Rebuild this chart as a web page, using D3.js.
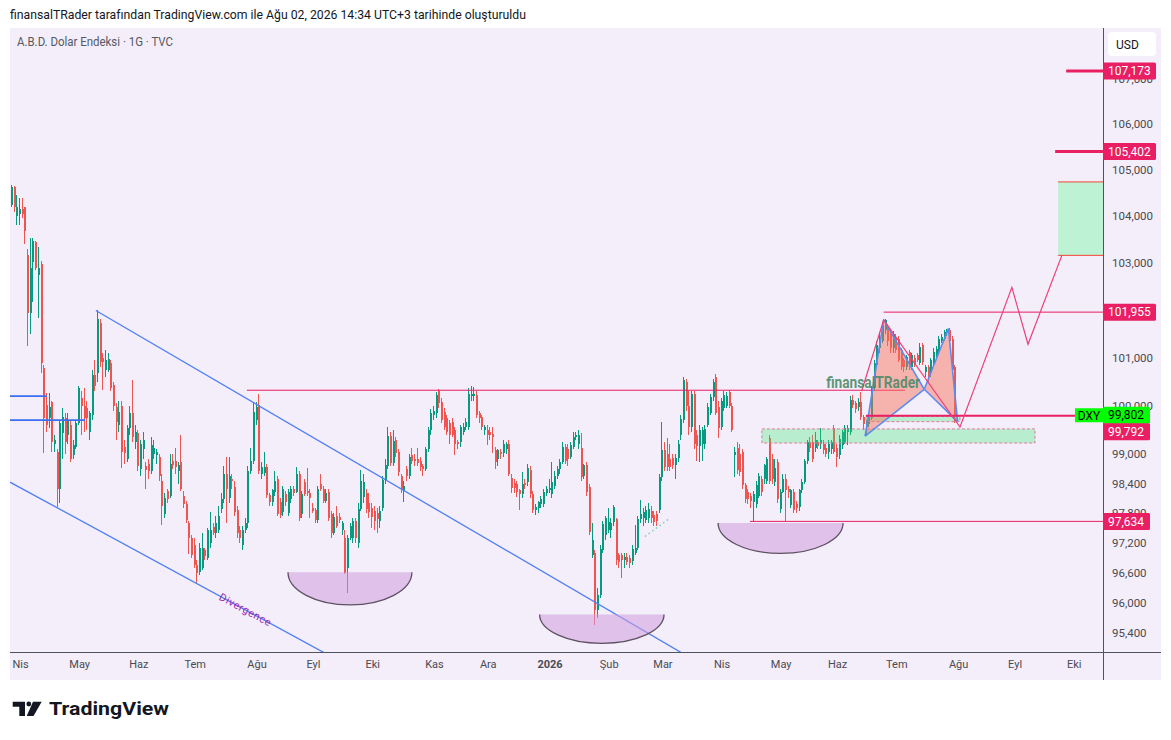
<!DOCTYPE html>
<html><head><meta charset="utf-8">
<script src="https://cdn.jsdelivr.net/npm/d3@7"></script>
<style>
html,body{margin:0;padding:0;background:#fff;}
svg{display:block;font-family:Roboto,"Liberation Sans",sans-serif;}
</style></head><body>
<svg id="c" width="1171" height="740"></svg>
<script>
// ---------- data ----------
const firstBarDate = [2025, 2, 27]; // 27 Mar 2025, daily bars (weekdays)
const monthNames = ["Oca","Şub","Mar","Nis","May","Haz","Tem","Ağu","Eyl","Eki","Kas","Ara"];
const priceTicks = [95.4,96,96.6,97.2,97.8,98.4,99,100,101,103,104,105,106,107];
const lastPrice = 99.802;
// [open, high, low, close]
const ohlc = [
[104.25,104.67,104.20,104.63],[104.63,104.65,104.10,104.20],[104.00,104.46,103.80,104.19],[104.05,104.40,103.80,104.15],
[104.15,104.40,103.95,104.05],[104.19,104.20,103.40,103.68],[103.17,103.30,101.25,101.93],[101.93,103.54,101.50,102.90],
[103.02,103.54,102.17,103.47],[103.44,103.47,102.85,102.90],[102.74,103.34,101.83,102.90],[102.98,103.05,100.67,100.88],
[100.78,100.85,99.02,99.74],[100.01,100.26,99.45,99.60],[99.74,100.26,99.53,99.97],[100.07,100.10,99.04,99.25],
[99.22,99.40,99.04,99.29],[99.04,99.10,97.92,98.29],[98.29,99.70,98.00,99.64],[99.43,99.95,98.90,99.76],
[99.74,99.84,99.00,99.25],[99.40,99.84,99.20,99.70],[99.60,99.70,98.85,98.91],[98.98,99.30,98.90,99.18],
[99.14,99.70,99.10,99.64],[99.64,100.40,99.60,100.36],[100.16,100.30,99.40,100.00],[100.00,100.36,99.45,99.74],
[99.95,100.10,99.50,99.74],[99.45,99.90,99.30,99.84],[99.80,100.75,99.70,100.63],[100.63,100.95,100.30,100.40],
[100.67,102.00,100.50,101.80],[101.72,101.80,100.80,100.91],[101.00,101.10,100.32,100.91],[100.74,101.15,100.60,100.95],
[100.75,101.10,100.70,100.98],[100.88,100.95,100.30,100.36],[100.43,100.50,99.90,100.00],[99.97,100.05,99.30,99.66],
[99.60,100.10,99.45,99.87],[100.00,100.10,98.71,99.04],[99.14,99.30,98.80,99.02],[98.91,99.60,98.85,99.53],
[99.53,100.00,99.40,99.84],[99.84,100.53,99.25,99.35],[99.25,99.60,99.10,99.45],[99.43,99.50,98.65,98.75],
[98.70,99.30,98.55,99.20],[99.10,99.45,98.90,99.30],[98.75,98.85,98.30,98.67],[98.80,98.90,98.50,98.65],
[98.65,99.35,98.60,99.18],[99.00,99.30,98.90,99.12],[98.98,99.10,98.80,99.05],[98.95,99.00,98.45,98.55],
[98.46,98.60,97.57,97.95],[97.78,98.20,97.70,98.11],[98.25,98.30,98.00,98.09],[98.15,99.00,98.10,98.81],
[98.87,99.00,98.70,98.77],[98.87,99.12,98.60,98.73],[98.65,98.85,98.40,98.77],[98.85,99.39,98.25,98.30],
[98.15,98.25,97.90,97.98],[97.98,98.05,97.60,97.67],[97.60,97.65,96.97,97.30],[97.30,97.35,96.90,96.95],
[97.15,97.30,96.70,96.76],[96.76,96.85,96.37,96.60],[96.62,97.20,96.55,97.09],[96.70,97.40,96.65,97.09],
[97.05,97.10,96.85,96.93],[96.90,97.50,96.85,97.46],[97.20,97.82,97.10,97.46],[97.53,97.60,97.35,97.40],
[97.40,97.75,97.30,97.60],[97.46,97.95,97.40,97.74],[97.88,98.20,97.80,98.09],[98.09,98.75,98.00,98.60],
[98.60,98.95,97.60,98.29],[98.10,98.95,98.00,98.55],[98.50,98.60,98.30,98.45],[98.33,98.45,97.75,97.82],
[97.86,97.95,97.30,97.40],[97.46,97.55,97.20,97.30],[97.15,97.55,97.05,97.46],[97.46,97.70,97.40,97.60],
[97.60,98.75,97.50,98.65],[98.65,99.12,98.60,98.87],[98.87,100.08,98.80,99.87],[99.70,100.08,99.60,99.97],
[100.01,100.25,98.60,98.65],[98.60,98.85,98.50,98.73],[98.62,99.04,98.56,98.73],[98.73,98.80,98.10,98.16],
[98.16,98.20,97.95,98.03],[98.03,98.30,97.95,98.26],[98.23,98.65,98.15,98.46],[98.50,98.55,97.75,97.79],
[98.03,98.10,97.70,97.76],[97.82,98.35,97.75,98.29],[98.19,98.25,97.95,98.03],[97.80,98.30,97.75,98.23],
[98.09,98.35,98.00,98.29],[98.29,98.35,98.15,98.20],[98.23,98.73,98.20,98.60],[98.60,98.65,97.65,97.71],
[97.79,98.25,97.70,98.19],[98.43,98.50,98.15,98.19],[98.25,98.71,98.15,98.20],[98.20,98.30,97.71,98.10],
[97.90,98.00,97.80,97.84],[97.86,97.90,97.60,97.66],[97.66,98.35,97.60,98.29],[98.40,98.60,98.25,98.29],
[98.29,98.35,98.00,98.05],[98.05,98.30,98.00,98.20],[98.23,98.30,97.65,97.71],[97.78,97.85,97.30,97.40],
[97.40,97.80,97.35,97.72],[97.75,97.95,97.50,97.55],[97.72,97.80,97.60,97.66],[97.45,97.65,97.35,97.60],
[97.30,97.45,96.58,96.60],[96.70,97.35,96.20,97.30],[97.30,97.60,97.25,97.55],[97.30,97.70,97.20,97.65],
[97.65,97.70,97.20,97.30],[97.20,98.00,97.10,97.88],[97.88,98.68,97.85,98.45],[98.13,98.60,98.00,98.43],
[98.20,98.30,97.80,97.88],[98.00,98.20,97.70,97.82],[97.90,98.00,97.50,97.72],[97.85,97.95,97.45,97.65],
[97.80,97.90,97.40,97.68],[97.65,97.95,97.50,97.85],[97.90,98.55,97.85,98.47],[98.47,98.90,98.40,98.77],
[98.75,99.55,98.70,99.38],[99.38,99.45,98.75,98.82],[98.82,99.50,98.75,99.28],[99.29,99.35,98.95,99.02],
[99.04,99.10,98.55,98.63],[98.55,98.60,98.20,98.30],[98.25,98.45,98.03,98.35],[98.70,98.75,98.45,98.55],
[98.56,99.00,98.50,98.94],[98.98,99.12,98.80,98.86],[98.90,99.00,98.75,98.87],[98.90,99.12,98.75,98.83],
[98.87,98.95,98.65,98.73],[98.75,98.80,98.55,98.70],[98.70,99.15,98.65,99.11],[99.11,99.55,99.05,99.49],
[99.49,99.94,99.40,99.84],[99.80,100.00,99.70,99.90],[99.84,100.28,99.75,100.22],[100.30,100.35,99.95,100.05],
[100.07,100.15,99.65,99.70],[99.87,99.95,99.50,99.56],[99.74,99.80,99.40,99.46],[99.64,99.70,99.20,99.39],
[99.66,99.75,99.35,99.40],[99.49,99.55,98.98,99.22],[99.25,99.30,99.10,99.20],[99.25,99.60,99.15,99.56],
[99.45,99.65,99.40,99.55],[99.56,99.75,99.50,99.66],[99.56,100.37,99.50,100.25],[100.20,100.40,100.10,100.25],
[100.20,100.39,100.10,100.24],[100.22,100.30,99.75,99.80],[99.85,99.90,99.65,99.75],[99.77,99.80,99.50,99.56],
[99.49,99.60,99.40,99.56],[99.50,99.60,99.18,99.39],[99.45,99.55,99.30,99.39],[99.42,99.55,99.02,99.35],
[99.08,99.15,98.70,98.85],[98.91,99.10,98.75,99.08],[99.05,99.10,98.90,99.00],[99.02,99.30,98.95,99.22],
[99.10,99.25,99.00,99.22],[99.22,99.30,98.55,98.60],[98.52,98.60,98.20,98.32],[98.42,98.50,98.20,98.32],
[98.40,98.45,98.13,98.23],[98.26,98.30,97.86,98.19],[98.19,98.63,98.10,98.40],[98.42,98.50,98.30,98.38],
[98.43,98.80,98.35,98.71],[98.67,98.75,98.10,98.19],[98.19,98.25,97.80,97.86],[97.86,97.98,97.76,97.93],
[97.90,98.05,97.80,98.03],[97.98,98.15,97.90,98.09],[97.99,98.30,97.93,98.23],[98.20,98.35,98.15,98.29],
[98.28,98.50,98.20,98.31],[98.19,98.84,98.10,98.43],[98.36,98.65,98.30,98.56],[98.56,98.75,98.50,98.70],
[98.70,98.90,98.60,98.84],[98.84,99.25,98.80,99.15],[99.15,99.20,98.80,98.87],[99.10,99.20,98.75,98.90],
[98.94,99.25,98.90,99.18],[99.15,99.46,99.10,99.36],[99.36,99.45,99.30,99.39],[99.20,99.50,99.10,99.40],
[99.12,99.43,98.45,98.53],[98.56,98.80,98.50,98.77],[98.77,98.85,98.15,98.23],[98.33,98.40,97.35,97.41],
[96.95,97.60,96.90,97.25],[97.00,97.05,95.57,95.85],[95.85,96.30,95.70,96.15],[96.15,97.15,96.10,97.08],
[97.05,97.65,97.00,97.58],[97.35,97.75,97.25,97.70],[97.45,97.90,97.40,97.62],[97.45,97.70,97.30,97.60],
[97.62,97.96,97.55,97.92],[97.68,97.70,96.75,96.85],[96.95,97.00,96.70,96.82],[96.95,97.00,96.49,96.85],
[96.85,97.00,96.70,96.92],[96.92,97.00,96.75,96.82],[96.90,96.95,96.70,96.80],[96.83,97.15,96.75,97.08],
[97.00,97.56,96.95,97.10],[97.10,97.75,97.05,97.68],[97.68,98.06,97.60,97.78],[97.70,97.90,97.55,97.82],
[97.66,97.95,97.60,97.86],[97.70,98.00,97.60,97.88],[97.85,97.95,97.60,97.70],[97.76,97.85,97.55,97.63],
[97.78,97.85,97.55,97.65],[97.86,98.60,97.80,98.53],[98.53,99.67,98.45,99.08],[99.08,99.25,98.65,98.74],
[99.00,99.33,98.65,98.74],[98.90,99.20,98.65,98.74],[98.92,99.00,98.70,98.78],[98.78,99.00,98.50,98.92],
[98.92,99.30,98.85,99.22],[99.40,99.80,99.30,99.73],[99.70,100.60,99.65,100.53],[100.50,100.55,99.90,100.00],
[100.00,100.30,99.40,99.55],[99.55,100.30,99.45,100.25],[100.25,100.30,99.10,99.20],[99.40,99.50,98.87,99.16],
[99.16,99.60,98.85,99.50],[99.20,99.55,98.87,99.50],[99.20,99.60,99.10,99.52],[99.60,100.05,99.55,99.97],
[99.84,100.25,99.80,100.18],[100.18,100.55,100.10,100.49],[100.60,100.65,99.80,99.84],[99.98,100.10,99.33,99.53],
[99.55,100.15,99.50,100.10],[99.95,100.30,99.90,100.22],[100.00,100.28,99.95,100.20],[100.28,100.32,99.95,100.00],
[100.00,100.05,99.45,99.49],[98.98,99.15,98.53,99.05],[99.12,99.25,98.60,98.67],[99.00,99.20,98.55,98.63],
[99.04,99.10,98.30,98.37],[98.37,98.42,98.00,98.09],[98.23,98.30,97.98,98.09],[98.15,98.20,97.90,98.05],
[98.03,98.25,97.63,98.19],[97.98,98.45,97.90,98.37],[98.15,98.62,98.10,98.56],[98.50,98.55,98.15,98.23],
[98.50,98.80,98.40,98.77],[98.46,98.95,98.40,98.91],[99.33,99.40,98.40,98.46],[98.90,99.00,98.40,98.50],
[98.43,98.90,98.35,98.71],[98.84,98.90,98.00,98.09],[97.88,98.30,97.80,98.23],[98.23,98.60,98.20,98.50],
[98.50,98.60,97.64,98.27],[98.30,98.35,98.10,98.23],[97.96,98.30,97.90,98.27],[98.23,98.30,97.80,97.86],
[97.98,98.05,97.80,97.90],[97.92,98.30,97.85,98.26],[98.26,98.50,98.20,98.43],[98.43,98.90,98.40,98.87],
[98.87,99.30,98.80,99.25],[99.25,99.35,99.05,99.12],[99.25,99.40,98.85,98.91],[99.12,99.45,99.05,99.29],
[99.25,99.30,99.10,99.16],[99.20,99.53,99.10,99.30],[99.22,99.30,99.00,99.08],[99.12,99.20,98.95,99.00],
[99.05,99.30,98.90,99.22],[99.10,99.30,99.00,99.25],[99.53,99.60,99.00,99.05],[99.12,99.20,98.73,98.94],
[98.98,99.40,98.90,99.32],[99.18,99.50,99.10,99.45],[99.25,99.60,99.20,99.53],[99.45,99.60,99.18,99.53],
[99.45,100.20,99.40,100.11],[100.11,100.22,99.95,100.01],[100.05,100.10,99.85,99.94],[99.97,100.15,99.90,100.07],
[100.07,100.28,99.70,99.77],[99.77,99.80,99.50,99.63],[99.56,99.70,99.37,99.63],[99.63,99.85,99.55,99.77],
[99.74,100.40,99.70,100.36],[100.36,100.95,100.30,100.88],[100.84,101.35,100.80,101.26],[101.20,101.54,101.10,101.40],
[101.34,101.75,101.30,101.68],[101.58,101.82,101.50,101.79],[101.65,101.70,101.25,101.34],[101.54,101.60,101.10,101.20],
[101.20,101.55,101.10,101.50],[101.44,101.50,101.10,101.16],[101.40,101.45,100.90,100.95],[101.16,101.20,100.75,100.81],
[100.95,101.00,100.70,100.81],[100.81,101.05,100.75,101.01],[101.12,101.15,100.75,100.81],[100.81,101.10,100.75,101.05],
[101.00,101.05,100.80,100.87],[101.05,101.10,100.90,100.95],[100.88,101.30,100.85,101.23],[101.26,101.30,100.85,100.91],
[100.70,100.85,100.60,100.81],[100.81,100.85,100.50,100.63],[100.67,101.00,100.60,100.95],[100.88,101.20,100.85,101.12],
[101.05,101.25,101.00,101.19],[101.16,101.45,101.10,101.40],[101.34,101.50,101.30,101.44],[101.40,101.58,101.35,101.54],
[101.52,101.60,101.45,101.56],[101.58,101.62,101.30,101.34],[101.40,101.45,100.70,100.74],[100.81,100.85,99.65,99.802]
];
// drawings: [barIndex, price]
const leftLevels = [[100.20, 13], [99.70, 27.2]];           // [price, end bar]
const channelUpper = [[31.2,101.99],[176,97.30]];
const channelLower = [[-0.72,98.43],[75.5,96.19]];
const resistance = {from:87.4, to:332.2, price:100.32};
const rightLevels = [
  {price:107.173, from:392.2, w:3},
  {price:105.402, from:388.1, w:3},
  {price:101.955, from:324.3, w:1},
  {price:99.792,  from:317.7, w:2},
  {price:97.634,  from:274.6, w:1}
];
const cups = [[102.7,148.8,96.61,95.96],[196.3,242.6,95.77,95.20],[262.7,309.2,97.60,96.99]];
const zones = [[279,380.6,99.52,99.23],[317.7,352.7,99.78,99.67]];
const targetBox = [389.2, 104.74, 103.16];
const xabcd = [[317.4,99.37],[324.3,101.79],[339.4,100.34],[348.4,101.61],[351.8,99.67]];
const projection = [[316.1,100.30],[324.3,101.79],[352.7,99.56],[372.0,102.48],[378.0,101.28],[390.6,103.16]];
const dotted = [[235.5,97.33],[244.8,97.70]];
const axisLabels = [
  {price:107.173, text:"107,173", bg:"#e91e63", fg:"#fff", w:53, dy:0},
  {price:105.402, text:"105,402", bg:"#e91e63", fg:"#fff", w:53, dy:0},
  {price:101.955, text:"101,955", bg:"#e91e63", fg:"#fff", w:53, dy:0},
  {price:99.802,  text:"99,802",  bg:"#00ff00", fg:"#000", w:47, dy:0},
  {price:99.792,  text:"99,792",  bg:"#e91e63", fg:"#fff", w:47, dy:16},
  {price:97.634,  text:"97,634",  bg:"#e91e63", fg:"#fff", w:47, dy:0}
];

// ---------- layout ----------
const L = 10, R = 1103, T = 28, B = 652, FR = 1161, FB = 680;
const svg = d3.select("#c");

// dates of bars (weekdays)
const nBars = 410;
const dates = [];
{ let d = new Date(Date.UTC(firstBarDate[0], firstBarDate[1], firstBarDate[2]));
  while (dates.length < nBars) { const wd = d.getUTCDay(); if (wd !== 0 && wd !== 6) dates.push(new Date(d)); d = new Date(d.getTime() + 86400000); } }

const x = d3.scaleLinear().domain([-0.72, 405.9]).range([L, R]);
const y = d3.scaleLog().domain([95.03, 108.13]).range([B, T]);

// background
svg.append("rect").attr("x",0).attr("y",0).attr("width",1171).attr("height",740).attr("fill","#fff");
svg.append("rect").attr("x",L).attr("y",T).attr("width",FR-L).attr("height",FB-T).attr("fill","#f3eef9");

svg.append("defs").append("clipPath").attr("id","plot").append("rect")
  .attr("x",L).attr("y",T).attr("width",R-L).attr("height",B-T);
const g = svg.append("g").attr("clip-path","url(#plot)");

// candles
const up = "#089981", dn = "#f05450";
const cg = g.append("g").attr("shape-rendering","crispEdges");
cg.selectAll("rect.w").data(ohlc).join("rect").attr("class","w")
  .attr("x",(d,i)=>Math.round(x(i))-1).attr("width",1)
  .attr("y",d=>y(d[1])).attr("height",d=>Math.max(1,y(d[2])-y(d[1])))
  .attr("fill",d=>d[3]>=d[0]?up:dn);
cg.selectAll("rect.b").data(ohlc).join("rect").attr("class","b")
  .attr("x",(d,i)=>Math.round(x(i))-1).attr("width",2)
  .attr("y",d=>y(Math.max(d[0],d[3]))).attr("height",d=>Math.max(1,Math.abs(y(d[0])-y(d[3]))))
  .attr("fill",d=>d[3]>=d[0]?up:dn);

// left short levels
leftLevels.forEach(([p,e])=>{
  g.append("line").attr("x1",L).attr("x2",x(e)).attr("y1",y(p)).attr("y2",y(p))
   .attr("stroke","#3b6ef0").attr("stroke-width",1.8);
});

// channel lines
function extLine(p1,p2,fromLeft){
  const x1=x(p1[0]),y1=y(p1[1]),x2=x(p2[0]),y2=y(p2[1]); const s=(y2-y1)/(x2-x1);
  const xs = fromLeft ? L : x1;
  return [xs, y1+s*(xs-x1), R, y1+s*(R-x1)];
}
[[channelUpper,false],[channelLower,true]].forEach(([c,f])=>{
  const [a,b,cc,d]=extLine(c[0],c[1],f);
  g.append("line").attr("x1",a).attr("y1",b).attr("x2",cc).attr("y2",d)
   .attr("stroke","#4f7ff7").attr("stroke-width",1.3);
});
// Divergence label along the lower channel
{
  const kx = 85.5; const [a,b,cc,d]=extLine(channelLower[0],channelLower[1],true);
  const px = x(kx), py = b + (d-b)/(cc-a)*(px-a);
  const ang = Math.atan2(d-b, cc-a)*180/Math.PI;
  g.append("text").attr("transform",`translate(${px+2},${py+5}) rotate(${ang})`)
   .attr("text-anchor","middle").attr("font-size",10.5).attr("fill","#9c27b0")
   .attr("letter-spacing",0.6).text("Divergence");
}

// cups
cups.forEach(([k1,k2,pt,pb])=>{
  const xl=x(k1), xr=x(k2), yt=y(pt), yb=y(pb), rx=(xr-xl)/2, ry=yb-yt;
  g.append("path").attr("d",`M${xl},${yt}L${xr},${yt}A${rx},${ry} 0 0 1 ${xl},${yt}Z`)
   .attr("fill","rgba(207,156,220,0.55)");
  g.append("path").attr("d",`M${xr},${yt}A${rx},${ry} 0 0 1 ${xl},${yt}`)
   .attr("fill","none").attr("stroke","#5e5163").attr("stroke-width",1.3);
});

// dotted teal
g.append("line").attr("x1",x(dotted[0][0])).attr("y1",y(dotted[0][1])).attr("x2",x(dotted[1][0])).attr("y2",y(dotted[1][1]))
 .attr("stroke","#5fc9b0").attr("stroke-width",1.2).attr("stroke-dasharray","1.5,3");

// green zones
zones.forEach(([k1,k2,p1,p2])=>{
  g.append("rect").attr("x",x(k1)).attr("width",x(k2)-x(k1)).attr("y",y(p1)).attr("height",y(p2)-y(p1))
   .attr("fill","rgba(50,235,110,0.3)").attr("stroke","#e27a9c").attr("stroke-width",1).attr("stroke-dasharray","3,2");
});

// resistance line
g.append("line").attr("x1",x(resistance.from)).attr("x2",x(resistance.to))
 .attr("y1",y(resistance.price)).attr("y2",y(resistance.price)).attr("stroke","#e91e63").attr("stroke-width",1);

// target box
g.append("rect").attr("x",x(targetBox[0])).attr("width",R-x(targetBox[0]))
 .attr("y",y(targetBox[1])).attr("height",y(targetBox[2])-y(targetBox[1])).attr("fill","#bdf2d5");
[targetBox[1],targetBox[2]].forEach(p=>g.append("line").attr("x1",x(targetBox[0])).attr("x2",R)
 .attr("y1",y(p)).attr("y2",y(p)).attr("stroke","#f44336").attr("stroke-width",1));

// harmonic XABCD
const P = xabcd.map(d=>[x(d[0]),y(d[1])]);
[[0,1,2],[2,3,4]].forEach(t=>{
  g.append("path").attr("d","M"+t.map(i=>P[i].join(",")).join("L")+"Z").attr("fill","rgba(248,112,90,0.47)");
});
[[0,1],[1,2],[2,3],[3,4],[0,2],[2,4]].forEach(([a,b])=>{
  g.append("line").attr("x1",P[a][0]).attr("y1",P[a][1]).attr("x2",P[b][0]).attr("y2",P[b][1])
   .attr("stroke","#5c8cf0").attr("stroke-width",1.6);
});

// right levels
rightLevels.forEach(l=>{
  g.append("line").attr("x1",x(l.from)).attr("x2",R).attr("y1",y(l.price)).attr("y2",y(l.price))
   .attr("stroke","#e91e63").attr("stroke-width",l.w);
});

// projection path
g.append("path").attr("d",d3.line().x(d=>x(d[0])).y(d=>y(d[1]))(projection))
 .attr("fill","none").attr("stroke","#ec407a").attr("stroke-width",1.2);

// watermark text
g.append("text").attr("x",x(302.9)).attr("y",y(100.36)).attr("font-size",16).attr("font-weight","bold")
 .attr("fill","#4a8a68").attr("fill-opacity",0.9).attr("textLength",94).attr("lengthAdjust","spacingAndGlyphs")
 .text("finansalTRader");

// ---------- axes ----------
svg.append("line").attr("x1",R+0.5).attr("x2",R+0.5).attr("y1",T).attr("y2",FB).attr("stroke","#50535e");
svg.append("line").attr("x1",L).attr("x2",FR).attr("y1",B+0.5).attr("y2",B+0.5).attr("stroke","#50535e");

const fmt = v => d3.format(".3f")(v).replace(".", ",");
const ya = svg.append("g").attr("transform",`translate(${R},0)`)
  .call(d3.axisRight(y).tickValues(priceTicks).tickFormat(fmt).tickSize(0).tickPadding(9));
ya.select(".domain").remove();
ya.selectAll("text").attr("font-size",11.5).attr("fill","#4a4a52").attr("font-family","Roboto,sans-serif");

const monthTicks = [];
for (let i=1;i<dates.length;i++) if (dates[i].getUTCMonth()!==dates[i-1].getUTCMonth() && x(i)<R-5) monthTicks.push(i);
const xa = svg.append("g").attr("transform",`translate(0,${B})`)
  .call(d3.axisBottom(x).tickValues(monthTicks).tickSize(0).tickPadding(8)
    .tickFormat(i=>{const m=dates[i].getUTCMonth(); return m===0 ? String(dates[i].getUTCFullYear()) : monthNames[m];}));
xa.select(".domain").remove();
xa.selectAll("text").attr("font-size",11).attr("fill","#4a4a52").attr("font-family","Roboto,sans-serif")
  .attr("font-weight",i=>dates[i].getUTCMonth()===0?"bold":"normal");

// price labels
axisLabels.forEach(l=>{
  const cy = y(l.price)+l.dy;
  svg.append("rect").attr("x",R).attr("y",cy-8.5).attr("width",l.w).attr("height",17).attr("rx",1.5).attr("fill",l.bg);
  svg.append("text").attr("x",R+5).attr("y",cy+4.2).attr("font-size",12).attr("fill",l.fg).text(l.text);
});
// DXY tag
{ const cy=y(lastPrice);
  svg.append("rect").attr("x",1075).attr("y",cy-7).attr("width",28).attr("height",14).attr("fill","#00ff00");
  svg.append("text").attr("x",1089).attr("y",cy+4.3).attr("text-anchor","middle").attr("font-size",12).attr("fill","#000").text("DXY"); }

// USD box
svg.append("rect").attr("x",1108).attr("y",32).attr("width",48).attr("height",24).attr("rx",4).attr("fill","#fff");
svg.append("text").attr("x",1116).attr("y",48.5).attr("font-size",12).attr("fill","#131722").text("USD");

// titles
svg.append("text").attr("x",10).attr("y",18.5).attr("font-size",13).attr("fill","#131722")
  .attr("textLength",516).attr("lengthAdjust","spacingAndGlyphs")
  .text("finansalTRader tarafından TradingView.com ile Ağu 02, 2026 14:34 UTC+3 tarihinde oluşturuldu");
svg.append("text").attr("x",17).attr("y",46).attr("font-size",12).attr("fill","#555962")
  .attr("textLength",156).attr("lengthAdjust","spacingAndGlyphs")
  .text("A.B.D. Dolar Endeksi · 1G · TVC");

// TradingView logo
const lg = svg.append("g").attr("fill","#131722");
lg.append("path").attr("d","M12.7,701.7H25V716H19.3V706.7H12.7Z");
lg.append("circle").attr("cx",28.8).attr("cy",704).attr("r",2.4);
lg.append("path").attr("d","M33,701.7H41.7L33.5,716H26.7Z");
lg.append("text").attr("x",49).attr("y",715).attr("font-size",18.5).attr("font-weight","bold")
  .attr("textLength",120).attr("lengthAdjust","spacingAndGlyphs").text("TradingView");
</script>
</body></html>
